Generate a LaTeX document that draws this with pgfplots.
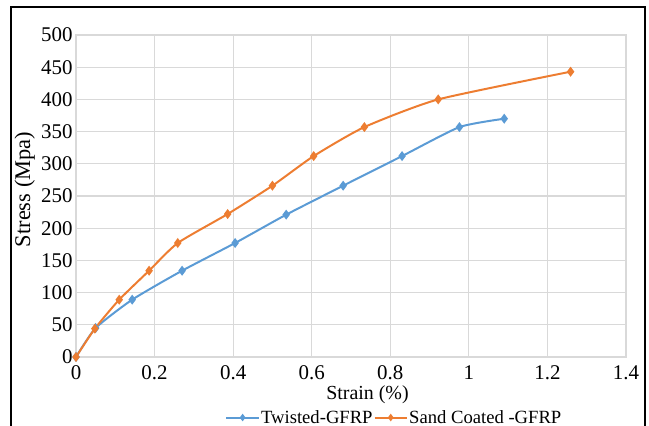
\documentclass[border=0pt]{standalone}
\usepackage{fontspec}
\setmainfont{Liberation Serif}
\usepackage{pgfplots}
\pgfplotsset{compat=1.18}
\definecolor{exblue}{RGB}{91,155,213}
\definecolor{exorange}{RGB}{237,125,49}
\definecolor{gridgray}{RGB}{217,217,217}
\begin{document}
\begin{tikzpicture}
\useasboundingbox (-76bp,-69bp) rectangle (573bp,357bp);
\draw[line width=1.3pt] (-65bp,-80bp) -- (-65bp,350bp) -- (569bp,350bp) -- (569bp,-80bp);
\begin{axis}[
  at={(0,0)}, anchor=south west,
  scale only axis,
  width=550bp, height=322bp,
  xmin=0, xmax=1.4, ymin=0, ymax=500,
  xtick={0,0.2,...,1.4},
  ytick={0,50,...,500},
  xticklabels={0,0.2,0.4,0.6,0.8,1,1.2,1.4},
  grid=major,
  grid style={gridgray, line width=1.1pt},
  axis line style={gridgray, line width=1.1pt},
  tick style={draw=none},
  /pgf/number format/assume math mode=true,
  ticklabel style={font=\fontsize{21}{24}\selectfont},
  xticklabel style={yshift=-5bp},
  xlabel={Strain (\%)},
  ylabel={Stress (Mpa)},
  xlabel style={font=\fontsize{20}{23}\selectfont, at={(rel axis cs:0.53,-0.118)}, anchor=center},
  ylabel style={font=\fontsize{22.5}{25}\selectfont, at={(rel axis cs:-0.093,0.52)}, anchor=center},
  legend columns=2,
  legend style={at={(rel axis cs:0.578,-0.188)}, anchor=center, draw=none, fill=none,
    font=\fontsize{18.7}{22}\selectfont, inner sep=0pt,
    nodes={inner sep=1pt},
    /tikz/every even column/.append style={column sep=0pt}},
  legend cell align=left,
  legend image code/.code={\draw[#1, line width=2pt] (0,0) -- (1.15cm,0) plot[mark=diamond*, mark size=2.2pt] coordinates {(0.57cm,0)};},
]
\addplot[exblue, line width=2pt, smooth, tension=0.35, mark=diamond*, mark size=3.4pt, mark options={solid}] coordinates {
  (0,0) (0.05,45) (0.143,89) (0.27,134) (0.405,177) (0.535,221) (0.68,266) (0.83,312) (0.976,357) (1.09,370)
};
\addlegendentry{Twisted-GFRP}
\addplot[exorange, line width=2pt, smooth, tension=0.35, mark=diamond*, mark size=3.4pt, mark options={solid}] coordinates {
  (0,0) (0.048,44) (0.11,89) (0.186,134) (0.259,177) (0.386,222) (0.50,266) (0.605,312) (0.734,357) (0.922,400) (1.259,443)
};
\addlegendentry{Sand Coated -GFRP}
\end{axis}
\end{tikzpicture}
\end{document}
